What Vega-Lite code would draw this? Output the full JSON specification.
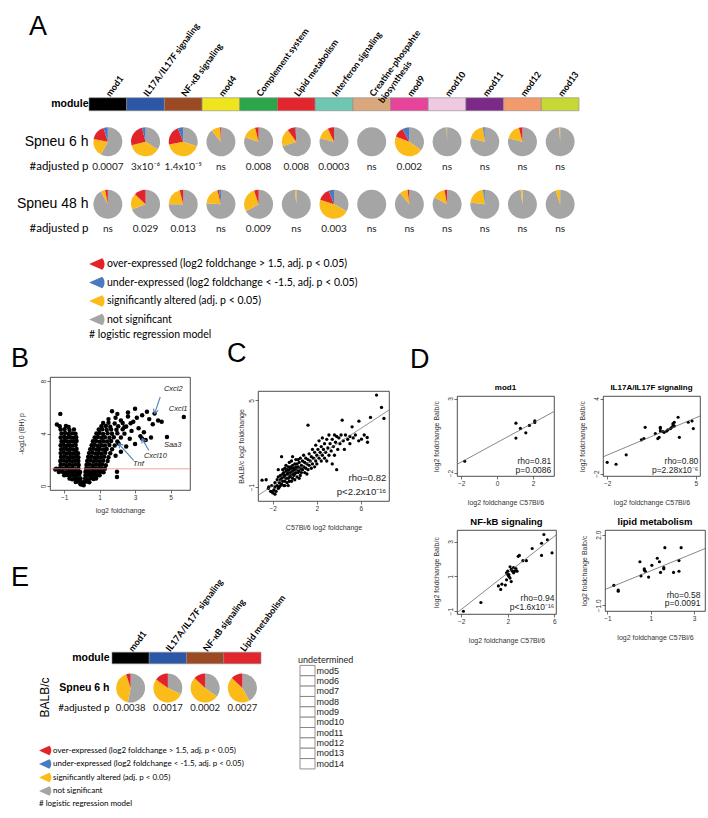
{
"$schema": "https://vega.github.io/schema/vega-lite/v6.json",
"background": "white",
"padding": {"left": 10, "top": 13, "right": 0, "bottom": 0},
"config": {
  "font": "Liberation Sans",
  "view": {"stroke": "#222", "strokeWidth": 0.8},
  "axis": {"grid": false, "domain": false, "ticks": true, "tickSize": 3, "tickColor": "#333", "tickWidth": 0.7, "labelFontSize": 6.5, "labelColor": "#333", "labelPadding": 1, "labelOverlap": false, "titleFontSize": 7, "titleFontWeight": "normal", "titleColor": "#333"},
  "axisY": {"labelAngle": -90, "labelAlign": "center", "labelBaseline": "bottom"},
  "title": {"font": "Liberation Sans", "color": "black"},
  "legend": {"symbolStrokeWidth": 0}
},
"datasets": {
  "modA": [{"m":"mod1"},{"m":"IL17A/IL17F signaling"},{"m":"NF-κB signaling"},{"m":"mod4"},{"m":"Complement system"},{"m":"Lipid metabolism"},{"m":"Interferon signaling"},{"m":"Creatine-phospahte biosynthesis"},{"m":"mod9"},{"m":"mod10"},{"m":"mod11"},{"m":"mod12"},{"m":"mod13"}],
  "pieA": [
    {"m":"mod1","r":"s6","c":"ns","k":1,"v":0.58},{"m":"mod1","r":"s6","c":"sig","k":2,"v":0.2},{"m":"mod1","r":"s6","c":"over","k":3,"v":0.17},{"m":"mod1","r":"s6","c":"under","k":4,"v":0.05},
    {"m":"IL17A/IL17F signaling","r":"s6","c":"ns","k":1,"v":0.34},{"m":"IL17A/IL17F signaling","r":"s6","c":"sig","k":2,"v":0.37},{"m":"IL17A/IL17F signaling","r":"s6","c":"over","k":3,"v":0.25},{"m":"IL17A/IL17F signaling","r":"s6","c":"under","k":4,"v":0.04},
    {"m":"NF-κB signaling","r":"s6","c":"ns","k":1,"v":0.3},{"m":"NF-κB signaling","r":"s6","c":"sig","k":2,"v":0.42},{"m":"NF-κB signaling","r":"s6","c":"over","k":3,"v":0.22},{"m":"NF-κB signaling","r":"s6","c":"under","k":4,"v":0.06},
    {"m":"mod4","r":"s6","c":"ns","k":1,"v":0.89},{"m":"mod4","r":"s6","c":"sig","k":2,"v":0.1},{"m":"mod4","r":"s6","c":"over","k":3,"v":0.01},
    {"m":"Complement system","r":"s6","c":"ns","k":1,"v":0.8},{"m":"Complement system","r":"s6","c":"sig","k":2,"v":0.16},{"m":"Complement system","r":"s6","c":"over","k":3,"v":0.04},
    {"m":"Lipid metabolism","r":"s6","c":"ns","k":1,"v":0.7},{"m":"Lipid metabolism","r":"s6","c":"sig","k":2,"v":0.2},{"m":"Lipid metabolism","r":"s6","c":"over","k":3,"v":0.09},{"m":"Lipid metabolism","r":"s6","c":"under","k":4,"v":0.01},
    {"m":"Interferon signaling","r":"s6","c":"ns","k":1,"v":0.79},{"m":"Interferon signaling","r":"s6","c":"sig","k":2,"v":0.14},{"m":"Interferon signaling","r":"s6","c":"over","k":3,"v":0.07},
    {"m":"Creatine-phospahte biosynthesis","r":"s6","c":"ns","k":1,"v":1},
    {"m":"mod9","r":"s6","c":"ns","k":1,"v":0.35},{"m":"mod9","r":"s6","c":"sig","k":2,"v":0.46},{"m":"mod9","r":"s6","c":"over","k":3,"v":0.11},{"m":"mod9","r":"s6","c":"under","k":4,"v":0.08},
    {"m":"mod10","r":"s6","c":"ns","k":1,"v":0.995},{"m":"mod10","r":"s6","c":"sig","k":2,"v":0.005},
    {"m":"mod11","r":"s6","c":"ns","k":1,"v":0.79},{"m":"mod11","r":"s6","c":"sig","k":2,"v":0.19},{"m":"mod11","r":"s6","c":"under","k":4,"v":0.02},
    {"m":"mod12","r":"s6","c":"ns","k":1,"v":0.79},{"m":"mod12","r":"s6","c":"sig","k":2,"v":0.17},{"m":"mod12","r":"s6","c":"over","k":3,"v":0.04},
    {"m":"mod13","r":"s6","c":"ns","k":1,"v":0.99},{"m":"mod13","r":"s6","c":"sig","k":2,"v":0.01},
    {"m":"mod1","r":"s48","c":"ns","k":1,"v":0.92},{"m":"mod1","r":"s48","c":"sig","k":2,"v":0.05},{"m":"mod1","r":"s48","c":"over","k":3,"v":0.03},
    {"m":"IL17A/IL17F signaling","r":"s48","c":"ns","k":1,"v":0.69},{"m":"IL17A/IL17F signaling","r":"s48","c":"sig","k":2,"v":0.18},{"m":"IL17A/IL17F signaling","r":"s48","c":"over","k":3,"v":0.13},
    {"m":"NF-κB signaling","r":"s48","c":"ns","k":1,"v":0.75},{"m":"NF-κB signaling","r":"s48","c":"sig","k":2,"v":0.21},{"m":"NF-κB signaling","r":"s48","c":"over","k":3,"v":0.04},
    {"m":"mod4","r":"s48","c":"ns","k":1,"v":0.76},{"m":"mod4","r":"s48","c":"sig","k":2,"v":0.2},{"m":"mod4","r":"s48","c":"over","k":3,"v":0.02},{"m":"mod4","r":"s48","c":"under","k":4,"v":0.02},
    {"m":"Complement system","r":"s48","c":"ns","k":1,"v":0.67},{"m":"Complement system","r":"s48","c":"sig","k":2,"v":0.28},{"m":"Complement system","r":"s48","c":"over","k":3,"v":0.05},
    {"m":"Lipid metabolism","r":"s48","c":"ns","k":1,"v":0.985},{"m":"Lipid metabolism","r":"s48","c":"sig","k":2,"v":0.015},
    {"m":"Interferon signaling","r":"s48","c":"ns","k":1,"v":0.33},{"m":"Interferon signaling","r":"s48","c":"sig","k":2,"v":0.47},{"m":"Interferon signaling","r":"s48","c":"over","k":3,"v":0.14},{"m":"Interferon signaling","r":"s48","c":"under","k":4,"v":0.06},
    {"m":"Creatine-phospahte biosynthesis","r":"s48","c":"ns","k":1,"v":1},
    {"m":"mod9","r":"s48","c":"ns","k":1,"v":0.89},{"m":"mod9","r":"s48","c":"sig","k":2,"v":0.09},{"m":"mod9","r":"s48","c":"over","k":3,"v":0.02},
    {"m":"mod10","r":"s48","c":"ns","k":1,"v":0.83},{"m":"mod10","r":"s48","c":"sig","k":2,"v":0.14},{"m":"mod10","r":"s48","c":"over","k":3,"v":0.03},
    {"m":"mod11","r":"s48","c":"ns","k":1,"v":0.77},{"m":"mod11","r":"s48","c":"sig","k":2,"v":0.21},{"m":"mod11","r":"s48","c":"under","k":4,"v":0.02},
    {"m":"mod12","r":"s48","c":"ns","k":1,"v":0.98},{"m":"mod12","r":"s48","c":"sig","k":2,"v":0.02},
    {"m":"mod13","r":"s48","c":"ns","k":1,"v":0.95},{"m":"mod13","r":"s48","c":"sig","k":2,"v":0.05}
  ],
  "pA": [
    {"m":"mod1","r":"p6","p":"0.0007"},{"m":"IL17A/IL17F signaling","r":"p6","p":"3x10⁻⁶"},{"m":"NF-κB signaling","r":"p6","p":"1.4x10⁻⁵"},{"m":"mod4","r":"p6","p":"ns"},{"m":"Complement system","r":"p6","p":"0.008"},{"m":"Lipid metabolism","r":"p6","p":"0.008"},{"m":"Interferon signaling","r":"p6","p":"0.0003"},{"m":"Creatine-phospahte biosynthesis","r":"p6","p":"ns"},{"m":"mod9","r":"p6","p":"0.002"},{"m":"mod10","r":"p6","p":"ns"},{"m":"mod11","r":"p6","p":"ns"},{"m":"mod12","r":"p6","p":"ns"},{"m":"mod13","r":"p6","p":"ns"},
    {"m":"mod1","r":"p48","p":"ns"},{"m":"IL17A/IL17F signaling","r":"p48","p":"0.029"},{"m":"NF-κB signaling","r":"p48","p":"0.013"},{"m":"mod4","r":"p48","p":"ns"},{"m":"Complement system","r":"p48","p":"0.009"},{"m":"Lipid metabolism","r":"p48","p":"ns"},{"m":"Interferon signaling","r":"p48","p":"0.003"},{"m":"Creatine-phospahte biosynthesis","r":"p48","p":"ns"},{"m":"mod9","r":"p48","p":"ns"},{"m":"mod10","r":"p48","p":"ns"},{"m":"mod11","r":"p48","p":"ns"},{"m":"mod12","r":"p48","p":"ns"},{"m":"mod13","r":"p48","p":"ns"}
  ],
  "modE": [{"m":"mod1"},{"m":"IL17A/IL17F signaling"},{"m":"NF-κB signaling"},{"m":"Lipid metabolism"}],
  "pieE": [
    {"m":"mod1","r":"s6","c":"ns","k":1,"v":0.53},{"m":"mod1","r":"s6","c":"sig","k":2,"v":0.42},{"m":"mod1","r":"s6","c":"over","k":3,"v":0.05},
    {"m":"IL17A/IL17F signaling","r":"s6","c":"ns","k":1,"v":0.32},{"m":"IL17A/IL17F signaling","r":"s6","c":"sig","k":2,"v":0.53},{"m":"IL17A/IL17F signaling","r":"s6","c":"over","k":3,"v":0.15},
    {"m":"NF-κB signaling","r":"s6","c":"ns","k":1,"v":0.35},{"m":"NF-κB signaling","r":"s6","c":"sig","k":2,"v":0.52},{"m":"NF-κB signaling","r":"s6","c":"over","k":3,"v":0.13},
    {"m":"Lipid metabolism","r":"s6","c":"ns","k":1,"v":0.42},{"m":"Lipid metabolism","r":"s6","c":"sig","k":2,"v":0.45},{"m":"Lipid metabolism","r":"s6","c":"over","k":3,"v":0.13}
  ],
  "pE": [{"m":"mod1","r":"p6","p":"0.0038"},{"m":"IL17A/IL17F signaling","r":"p6","p":"0.0017"},{"m":"NF-κB signaling","r":"p6","p":"0.0002"},{"m":"Lipid metabolism","r":"p6","p":"0.0027"}],
  "undet": [{"m":"mod5"},{"m":"mod6"},{"m":"mod7"},{"m":"mod8"},{"m":"mod9"},{"m":"mod10"},{"m":"mod11"},{"m":"mod12"},{"m":"mod13"},{"m":"mod14"}],
  "volc": [
    {"x":0.0,"y":0.1},{"x":0.1,"y":0.05},{"x":-0.08,"y":0.12},{"x":0.05,"y":0.25},
    {"x":-0.35,"y":0.3},{"x":-0.2,"y":0.32},{"x":-0.05,"y":0.28},{"x":0.15,"y":0.3},{"x":0.3,"y":0.33},{"x":0.42,"y":0.28},
    {"x":-0.7,"y":0.55},{"x":-0.55,"y":0.5},{"x":-0.38,"y":0.58},{"x":-0.22,"y":0.52},{"x":-0.08,"y":0.56},{"x":0.18,"y":0.55},{"x":0.33,"y":0.5},{"x":0.5,"y":0.57},{"x":0.66,"y":0.52},{"x":0.8,"y":0.56},
    {"x":-1.0,"y":0.8},{"x":-0.85,"y":0.83},{"x":-0.68,"y":0.78},{"x":-0.5,"y":0.82},{"x":-0.33,"y":0.79},{"x":-0.15,"y":0.84},{"x":0.2,"y":0.8},{"x":0.36,"y":0.83},{"x":0.52,"y":0.78},{"x":0.7,"y":0.82},{"x":0.86,"y":0.79},{"x":1.0,"y":0.81},
    {"x":-1.3,"y":1.05},{"x":-1.12,"y":1.08},{"x":-0.95,"y":1.02},{"x":-0.78,"y":1.06},{"x":-0.6,"y":1.04},{"x":-0.42,"y":1.07},{"x":-0.25,"y":1.03},{"x":-0.1,"y":1.06},{"x":0.2,"y":1.05},{"x":0.38,"y":1.08},{"x":0.55,"y":1.02},{"x":0.72,"y":1.06},{"x":0.9,"y":1.04},{"x":1.07,"y":1.07},{"x":1.22,"y":1.03},
    {"x":-1.45,"y":1.3},{"x":-1.25,"y":1.33},{"x":-1.08,"y":1.28},{"x":-0.9,"y":1.32},{"x":-0.72,"y":1.29},{"x":-0.55,"y":1.31},{"x":-0.38,"y":1.27},{"x":-0.2,"y":1.33},{"x":0.24,"y":1.3},{"x":0.42,"y":1.32},{"x":0.6,"y":1.28},{"x":0.78,"y":1.31},{"x":0.95,"y":1.29},{"x":1.12,"y":1.33},{"x":1.3,"y":1.3},
    {"x":-1.2,"y":1.6},{"x":-1.03,"y":1.62},{"x":-0.86,"y":1.57},{"x":-0.7,"y":1.61},{"x":-0.52,"y":1.58},{"x":-0.35,"y":1.62},{"x":-0.18,"y":1.59},{"x":0.26,"y":1.6},{"x":0.44,"y":1.63},{"x":0.62,"y":1.57},{"x":0.8,"y":1.61},{"x":0.98,"y":1.59},{"x":1.15,"y":1.62},{"x":1.35,"y":1.58},
    {"x":-1.22,"y":1.9},{"x":-1.05,"y":1.93},{"x":-0.88,"y":1.87},{"x":-0.7,"y":1.91},{"x":-0.53,"y":1.88},{"x":-0.36,"y":1.92},{"x":-0.2,"y":1.89},{"x":0.3,"y":1.9},{"x":0.48,"y":1.93},{"x":0.66,"y":1.87},{"x":0.84,"y":1.91},{"x":1.02,"y":1.88},{"x":1.2,"y":1.92},{"x":1.45,"y":1.89},
    {"x":-1.18,"y":2.2},{"x":-1.0,"y":2.23},{"x":-0.83,"y":2.17},{"x":-0.66,"y":2.21},{"x":-0.5,"y":2.18},{"x":-0.33,"y":2.22},{"x":-0.2,"y":2.19},{"x":0.35,"y":2.2},{"x":0.53,"y":2.23},{"x":0.71,"y":2.17},{"x":0.89,"y":2.21},{"x":1.07,"y":2.18},{"x":1.25,"y":2.22},{"x":1.5,"y":2.19},
    {"x":-1.2,"y":2.5},{"x":-1.02,"y":2.53},{"x":-0.85,"y":2.47},{"x":-0.68,"y":2.51},{"x":-0.5,"y":2.48},{"x":-0.34,"y":2.52},{"x":-0.22,"y":2.49},{"x":0.4,"y":2.5},{"x":0.58,"y":2.53},{"x":0.76,"y":2.47},{"x":0.94,"y":2.51},{"x":1.12,"y":2.48},{"x":1.32,"y":2.52},{"x":1.6,"y":2.49},
    {"x":-1.17,"y":2.8},{"x":-1.0,"y":2.83},{"x":-0.82,"y":2.77},{"x":-0.65,"y":2.81},{"x":-0.48,"y":2.78},{"x":-0.3,"y":2.82},{"x":0.47,"y":2.8},{"x":0.65,"y":2.83},{"x":0.83,"y":2.77},{"x":1.0,"y":2.81},{"x":1.2,"y":2.78},{"x":1.4,"y":2.82},{"x":1.7,"y":2.79},
    {"x":-1.2,"y":3.1},{"x":-1.03,"y":3.13},{"x":-0.86,"y":3.07},{"x":-0.7,"y":3.11},{"x":-0.52,"y":3.08},{"x":-0.35,"y":3.12},{"x":0.55,"y":3.1},{"x":0.72,"y":3.13},{"x":0.9,"y":3.07},{"x":1.1,"y":3.11},{"x":1.3,"y":3.08},{"x":1.55,"y":3.12},{"x":1.85,"y":3.09},
    {"x":-1.15,"y":3.4},{"x":-0.98,"y":3.43},{"x":-0.8,"y":3.37},{"x":-0.62,"y":3.41},{"x":-0.45,"y":3.38},{"x":-0.3,"y":3.42},{"x":0.62,"y":3.4},{"x":0.8,"y":3.43},{"x":1.0,"y":3.37},{"x":1.2,"y":3.41},{"x":1.42,"y":3.38},{"x":1.65,"y":3.42},{"x":2.0,"y":3.39},
    {"x":-1.2,"y":3.7},{"x":-1.0,"y":3.73},{"x":-0.84,"y":3.67},{"x":-0.66,"y":3.71},{"x":-0.48,"y":3.68},{"x":-0.32,"y":3.72},{"x":0.72,"y":3.7},{"x":0.9,"y":3.73},{"x":1.1,"y":3.67},{"x":1.3,"y":3.71},{"x":1.55,"y":3.68},{"x":1.8,"y":3.72},{"x":2.2,"y":3.69},
    {"x":-1.15,"y":4.0},{"x":-0.95,"y":4.03},{"x":-0.75,"y":3.97},{"x":-0.55,"y":4.01},{"x":-0.36,"y":3.98},{"x":0.82,"y":4.0},{"x":1.0,"y":4.03},{"x":1.2,"y":3.97},{"x":1.45,"y":4.01},{"x":1.7,"y":3.98},{"x":2.0,"y":4.02},{"x":2.4,"y":3.99},
    {"x":-1.2,"y":4.3},{"x":-0.98,"y":4.33},{"x":-0.7,"y":4.27},{"x":-0.45,"y":4.31},{"x":0.95,"y":4.3},{"x":1.15,"y":4.33},{"x":1.4,"y":4.27},{"x":1.65,"y":4.31},{"x":1.95,"y":4.28},{"x":2.3,"y":4.32},
    {"x":-1.25,"y":4.55},{"x":-0.9,"y":4.58},{"x":-0.75,"y":4.5},{"x":1.1,"y":4.55},{"x":1.35,"y":4.58},{"x":1.6,"y":4.52},{"x":2.05,"y":4.56},{"x":2.5,"y":4.53},
    {"x":1.2,"y":4.8},{"x":1.5,"y":4.83},{"x":1.85,"y":4.77},{"x":2.3,"y":4.81},{"x":2.75,"y":4.78},
    {"x":1.5,"y":5.1},{"x":1.9,"y":5.2},{"x":2.2,"y":5.0},{"x":2.6,"y":5.3},{"x":2.9,"y":4.9},{"x":3.1,"y":5.2},{"x":1.7,"y":5.7},{"x":3.0,"y":5.9},{"x":3.67,"y":5.67},{"x":3.4,"y":5.4},{"x":3.8,"y":5.1},{"x":4.1,"y":5.52},{"x":4.3,"y":5.0},{"x":4.5,"y":4.9},{"x":4.0,"y":4.7},{"x":2.4,"y":4.5},{"x":2.8,"y":4.2},{"x":3.2,"y":4.4},{"x":3.5,"y":4.1},{"x":3.3,"y":3.8},{"x":3.6,"y":3.5},{"x":3.9,"y":3.7},{"x":2.7,"y":3.6},{"x":3.0,"y":3.2},{"x":2.5,"y":3.0},{"x":2.2,"y":2.6},{"x":1.9,"y":2.3},{"x":5.75,"y":5.27},{"x":4.8,"y":3.74},{"x":2.6,"y":5.6},{"x":2.0,"y":5.5},{"x":1.98,"y":1.07},{"x":1.98,"y":0.68},{"x":-1.22,"y":5.5},{"x":-1.41,"y":4.68},{"x":-1.5,"y":1.25},{"x":3.39,"y":3.61},{"x":2.07,"y":3.23}
  ],
  "arrowsB": [
    {"x":4.42,"y":6.79,"x2":4.1,"y2":5.52},{"x":4.1,"y":5.52,"x2":4.31,"y2":5.77},{"x":4.1,"y":5.52,"x2":4.04,"y2":5.9},
    {"x":3.77,"y":2.72,"x2":3.39,"y2":3.61},{"x":3.39,"y":3.61,"x2":3.39,"y2":3.23},{"x":3.39,"y":3.61,"x2":3.635,"y2":3.42},
    {"x":2.92,"y":1.95,"x2":2.07,"y2":3.23},{"x":2.07,"y":3.23,"x2":2.13,"y2":2.86},{"x":2.07,"y":3.23,"x2":2.34,"y2":3.11}
  ],
  "genesB": [{"x":4.63,"y":7.43,"g":"Cxcl2"},{"x":4.9,"y":5.9,"g":"Cxcl1"},{"x":4.63,"y":3.15,"g":"Saa3"},{"x":3.5,"y":2.3,"g":"Cxcl10"},{"x":2.88,"y":1.7,"g":"Tnf"}],
  "scC": [
    {"x":-2.97,"y":-0.53},{"x":-2.6,"y":-0.5},{"x":-2.4,"y":-1.1},{"x":-2.36,"y":-1.0},{"x":-2.2,"y":-1.3},{"x":-2.1,"y":-0.9},{"x":-2.06,"y":-1.33},{"x":-2.0,"y":-1.4},{"x":-1.9,"y":-1.2},{"x":-1.8,"y":-0.7},{"x":-1.8,"y":-1.0},{"x":-1.8,"y":-1.5},{"x":-1.7,"y":-1.3},{"x":-1.6,"y":-0.5},{"x":-1.6,"y":-0.9},{"x":-1.5,"y":-1.1},{"x":-1.5,"y":-0.3},{"x":-1.5,"y":0.2},{"x":-1.4,"y":-0.7},{"x":-1.4,"y":-1.0},{"x":-1.3,"y":-0.5},{"x":-1.3,"y":-0.2},{"x":-1.3,"y":-0.9},{"x":-1.2,"y":-0.8},{"x":-1.2,"y":-0.4},{"x":-1.2,"y":1.1},{"x":-1.1,"y":-0.6},{"x":-1.1,"y":-0.1},{"x":-1.1,"y":0.2},{"x":-1.0,"y":-0.9},{"x":-1.0,"y":-0.3},{"x":-1.0,"y":0.0},{"x":-0.9,"y":-0.6},{"x":-0.9,"y":0.3},{"x":-0.9,"y":-0.2},{"x":-0.9,"y":-0.9},{"x":-0.8,"y":-0.4},{"x":-0.8,"y":0.1},{"x":-0.8,"y":0.5},{"x":-0.7,"y":-0.7},{"x":-0.7,"y":-0.1},{"x":-0.7,"y":0.2},{"x":-0.6,"y":-0.4},{"x":-0.6,"y":0.0},{"x":-0.6,"y":0.4},{"x":-0.6,"y":-0.9},{"x":-0.5,"y":-0.2},{"x":-0.5,"y":0.2},{"x":-0.5,"y":0.7},{"x":-0.5,"y":-0.6},{"x":-0.4,"y":0.0},{"x":-0.4,"y":0.4},{"x":-0.4,"y":-0.3},{"x":-0.3,"y":-0.1},{"x":-0.3,"y":0.3},{"x":-0.3,"y":0.8},{"x":-0.3,"y":-0.6},{"x":-0.2,"y":0.1},{"x":-0.2,"y":-0.4},{"x":-0.2,"y":0.5},{"x":-0.2,"y":1.1},{"x":-0.1,"y":0.0},{"x":-0.1,"y":0.3},{"x":-0.1,"y":-0.2},{"x":0.0,"y":0.2},{"x":0.0,"y":0.6},{"x":0.0,"y":-0.1},{"x":0.0,"y":-0.5},{"x":0.1,"y":0.4},{"x":0.1,"y":0.0},{"x":0.1,"y":0.9},{"x":0.2,"y":0.2},{"x":0.2,"y":-0.3},{"x":0.2,"y":0.6},{"x":0.3,"y":0.0},{"x":0.3,"y":0.4},{"x":0.3,"y":0.9},{"x":0.4,"y":0.7},{"x":0.4,"y":0.1},{"x":0.4,"y":-0.4},{"x":0.5,"y":0.3},{"x":0.5,"y":-0.2},{"x":0.5,"y":1.0},{"x":0.6,"y":0.5},{"x":0.6,"y":0.0},{"x":0.7,"y":0.8},{"x":0.7,"y":0.2},{"x":0.8,"y":0.4},{"x":0.8,"y":1.2},{"x":0.9,"y":0.0},{"x":0.9,"y":0.7},{"x":1.0,"y":0.3},{"x":1.0,"y":1.0},{"x":1.1,"y":0.6},{"x":1.1,"y":-0.1},{"x":1.2,"y":0.9},{"x":1.2,"y":0.2},{"x":1.2,"y":3.28},{"x":1.3,"y":0.5},{"x":1.3,"y":1.3},{"x":1.4,"y":0.8},{"x":1.5,"y":0.3},{"x":1.5,"y":1.1},{"x":1.6,"y":0.6},{"x":1.6,"y":1.6},{"x":1.7,"y":1.0},{"x":1.8,"y":0.4},{"x":1.8,"y":1.4},{"x":1.9,"y":0.8},{"x":1.9,"y":1.9},{"x":2.0,"y":1.2},{"x":2.0,"y":0.6},{"x":2.1,"y":1.6},{"x":2.2,"y":1.0},{"x":2.2,"y":2.2},{"x":2.3,"y":1.4},{"x":2.4,"y":0.8},{"x":2.4,"y":1.8},{"x":2.5,"y":1.2},{"x":2.5,"y":2.4},{"x":2.6,"y":1.6},{"x":2.7,"y":1.0},{"x":2.7,"y":2.0},{"x":2.8,"y":1.4},{"x":2.9,"y":2.3},{"x":2.9,"y":0.8},{"x":3.0,"y":1.7},{"x":3.1,"y":1.2},{"x":3.1,"y":2.6},{"x":3.2,"y":2.0},{"x":3.3,"y":1.5},{"x":3.4,"y":2.3},{"x":3.4,"y":0.6},{"x":3.5,"y":1.8},{"x":3.6,"y":2.6},{"x":3.6,"y":1.2},{"x":3.7,"y":2.1},{"x":3.8,"y":2.5},{"x":3.8,"y":0.2},{"x":3.9,"y":1.6},{"x":4.0,"y":2.4},{"x":4.1,"y":2.0},{"x":4.2,"y":2.6},{"x":4.3,"y":3.63},{"x":4.4,"y":2.2},{"x":4.5,"y":1.6},{"x":4.6,"y":2.6},{"x":4.8,"y":2.3},{"x":5.0,"y":2.5},{"x":5.0,"y":2.0},{"x":5.2,"y":3.17},{"x":5.3,"y":2.4},{"x":5.5,"y":2.6},{"x":5.82,"y":3.56},{"x":5.8,"y":2.2},{"x":6.05,"y":2.31},{"x":6.3,"y":2.6},{"x":6.57,"y":2.43},{"x":6.6,"y":2.1},{"x":6.87,"y":3.82},{"x":7.42,"y":5.37},{"x":7.87,"y":4.51},{"x":8.09,"y":3.75}
  ],
  "lineC": [{"x":-3.34,"y":-1.58,"x2":8.55,"y2":4.33}],
  "textC": [{"x":8.3,"y":-0.4,"t":"rho=0.82"},{"x":8.3,"y":-1.37,"t":"p<2.2x10⁻¹⁶"}],
  "dMod1": [{"x":-1.8,"y":-1.2},{"x":1.05,"y":1.35},{"x":1.05,"y":0.35},{"x":1.3,"y":1.0},{"x":1.6,"y":0.7},{"x":1.8,"y":1.2},{"x":2.1,"y":1.4},{"x":2.1,"y":1.5}],
  "lMod1": [{"x":-2.23,"y":-1.41,"x2":3.17,"y2":2.13}],
  "tMod1": [{"x":3.02,"y":-1.19,"t":"rho=0.81"},{"x":3.02,"y":-1.79,"t":"p=0.0086"}],
  "dIl17": [{"x":-2.0,"y":-1.1},{"x":-1.3,"y":-1.25},{"x":-0.5,"y":-0.5},{"x":0.7,"y":0.7},{"x":0.9,"y":0.8},{"x":1.0,"y":1.7},{"x":1.8,"y":1.2},{"x":2.0,"y":0.8},{"x":2.1,"y":0.9},{"x":2.2,"y":1.4},{"x":2.2,"y":1.6},{"x":2.2,"y":1.7},{"x":2.4,"y":1.35},{"x":2.5,"y":1.3},{"x":2.7,"y":1.4},{"x":2.8,"y":1.5},{"x":3.0,"y":1.6},{"x":3.1,"y":1.7},{"x":3.2,"y":1.9},{"x":3.2,"y":2.0},{"x":3.3,"y":1.8},{"x":3.3,"y":2.1},{"x":3.6,"y":2.5},{"x":3.7,"y":0.9},{"x":4.4,"y":2.1},{"x":4.7,"y":2.2},{"x":4.8,"y":1.6}],
  "lIl17": [{"x":-2.33,"y":-0.66,"x2":5.33,"y2":2.6}],
  "tIl17": [{"x":5.2,"y":-0.99,"t":"rho=0.80"},{"x":5.2,"y":-1.71,"t":"p=2.28x10⁻⁶"}],
  "dNfkb": [{"x":-1.8,"y":-1.0},{"x":-0.3,"y":-0.5},{"x":1.2,"y":0.45},{"x":1.4,"y":0.25},{"x":1.5,"y":0.55},{"x":1.8,"y":0.5},{"x":1.9,"y":0.8},{"x":1.9,"y":1.2},{"x":2.0,"y":1.3},{"x":2.0,"y":1.1},{"x":2.1,"y":1.0},{"x":2.1,"y":1.1},{"x":2.2,"y":1.55},{"x":2.2,"y":0.9},{"x":2.3,"y":1.4},{"x":2.3,"y":0.7},{"x":2.4,"y":1.3},{"x":2.5,"y":1.5},{"x":2.5,"y":1.2},{"x":2.6,"y":1.3},{"x":2.7,"y":1.45},{"x":2.8,"y":1.3},{"x":2.9,"y":2.15},{"x":3.0,"y":2.2},{"x":3.3,"y":1.9},{"x":3.6,"y":1.9},{"x":4.1,"y":2.6},{"x":4.9,"y":2.9},{"x":4.9,"y":2.2},{"x":5.1,"y":3.4},{"x":5.4,"y":3.1},{"x":5.8,"y":2.35}],
  "lNfkb": [{"x":-2.35,"y":-1.09,"x2":6.14,"y2":3.37}],
  "tNfkb": [{"x":6.0,"y":-0.25,"t":"rho=0.94"},{"x":6.0,"y":-0.77,"t":"p<1.6x10⁻¹⁶"}],
  "dLip": [{"x":-0.7,"y":-0.15},{"x":-0.5,"y":-0.35},{"x":-0.5,"y":-0.4},{"x":0.5,"y":0.85},{"x":0.55,"y":0.25},{"x":0.7,"y":0.5},{"x":0.7,"y":0.55},{"x":0.75,"y":0.45},{"x":0.9,"y":0.2},{"x":1.05,"y":0.7},{"x":1.3,"y":1.0},{"x":1.4,"y":0.85},{"x":1.45,"y":0.4},{"x":1.6,"y":0.55},{"x":1.6,"y":0.6},{"x":1.65,"y":1.45},{"x":2.05,"y":0.4},{"x":2.3,"y":0.9},{"x":2.3,"y":0.45},{"x":2.4,"y":1.45}],
  "lLip": [{"x":-1.11,"y":-0.33,"x2":3.5,"y2":1.41}],
  "tLip": [{"x":3.29,"y":-0.54,"t":"rho=0.58"},{"x":3.29,"y":-0.9,"t":"p=0.0091"}]
},
"spacing": -2,
"vconcat": [
{
  "title": {"text": "A", "fontSize": 27, "fontWeight": "normal", "anchor": "start", "frame": "group", "dx": -21, "dy": 20, "offset": 0},
  "width": 529, "height": 137.5,
  "view": {"stroke": null},
  "resolve": {"scale": {"fill": "independent"}},
  "layer": [
    {"data": {"name": "modA"},
     "mark": {"type": "rect", "stroke": "#8a8a8a", "strokeWidth": 0.6, "height": {"band": 1.04}},
     "encoding": {
       "x": {"field": "m", "type": "nominal", "scale": {"domain": ["mod1","IL17A/IL17F signaling","NF-κB signaling","mod4","Complement system","Lipid metabolism","Interferon signaling","Creatine-phospahte biosynthesis","mod9","mod10","mod11","mod12","mod13"], "paddingInner": 0, "paddingOuter": 0.5173, "align": 1},
         "axis": {"orient": "top", "title": null, "ticks": false, "domain": false, "labelAngle": -54, "labelAlign": "left", "labelBaseline": "middle", "labelPadding": 3, "labelFont": "Lato", "labelFontWeight": "bold", "labelFontSize": 9, "labelColor": "black", "labelLimit": 0,
           "labelExpr": "datum.label == 'Creatine-phospahte biosynthesis' ? ['Creatine-phospahte', 'biosynthesis'] : datum.label"}},
       "y": {"datum": "module", "type": "nominal", "scale": {"domain": ["module","g1","g2","s6","g3","p6","g4","g5","s48","g6","p48"], "paddingInner": 0, "paddingOuter": 0},
         "axis": {"title": null, "offset": -39, "ticks": false, "domain": false, "labelAngle": 0, "labelAlign": "right", "labelBaseline": "middle", "labelPadding": 1, "labelColor": "black", "labelLimit": 0,
           "labelExpr": "datum.value == 'module' ? 'module' : datum.value == 's6' ? 'Spneu 6 h' : datum.value == 's48' ? 'Spneu 48 h' : (datum.value == 'p6' || datum.value == 'p48') ? '#adjusted p' : ''",
           "labelFont": {"condition": {"test": "datum.value == 'p6' || datum.value == 'p48'", "value": "Lato"}, "value": "Liberation Sans"},
           "labelFontSize": {"condition": [{"test": "datum.value == 's6' || datum.value == 's48'", "value": 14}, {"test": "datum.value == 'p6' || datum.value == 'p48'", "value": 11.5}], "value": 10.5},
           "labelFontWeight": {"condition": {"test": "datum.value == 'module'", "value": "bold"}, "value": "normal"}}},
       "fill": {"field": "m", "type": "nominal", "scale": {"domain": ["mod1","IL17A/IL17F signaling","NF-κB signaling","mod4","Complement system","Lipid metabolism","Interferon signaling","Creatine-phospahte biosynthesis","mod9","mod10","mod11","mod12","mod13"], "range": ["#000000","#2c57a6","#9b4a23","#efe51c","#2ca64a","#e2262d","#6fc6b3","#d9a77c","#e8439a","#efc9e2","#7b2a88","#f39a6c","#c6d834"]}, "legend": null}
     }},
    {"data": {"name": "pieA"},
     "transform": [{"stack": "v", "groupby": ["m", "r"], "sort": [{"field": "k", "order": "ascending"}], "offset": "normalize", "as": ["t0", "t1"]}],
     "mark": {"type": "arc", "outerRadius": 14.5},
     "encoding": {
       "x": {"field": "m", "type": "nominal", "scale": {"domain": ["mod1","IL17A/IL17F signaling","NF-κB signaling","mod4","Complement system","Lipid metabolism","Interferon signaling","Creatine-phospahte biosynthesis","mod9","mod10","mod11","mod12","mod13"], "paddingInner": 0, "paddingOuter": 0.5173, "align": 1}},
       "y": {"field": "r", "type": "nominal", "scale": {"domain": ["module","g1","g2","s6","g3","p6","g4","g5","s48","g6","p48"], "paddingInner": 0, "paddingOuter": 0}},
       "theta": {"field": "t0", "type": "quantitative", "scale": {"domain": [0, 1], "range": [0, 6.283185]}, "stack": null},
       "theta2": {"field": "t1"},
       "fill": {"field": "c", "type": "nominal", "scale": {"domain": ["over","under","sig","ns"], "range": ["#e2232a","#4b7bbf","#fbbb18","#a5a5a5"]},
         "legend": {"orient": "none", "legendX": 39, "legendY": 159, "direction": "vertical", "title": "# logistic regression model", "titleOrient": "bottom", "titleFont": "Lato", "titleFontSize": 10.5, "titleFontWeight": "normal", "titleColor": "black", "titlePadding": 5, "labelFont": "Lato", "labelFontSize": 10.5, "labelColor": "black", "labelLimit": 0, "labelOffset": 4, "symbolType": "M-1,0L0.9,-0.85A1.25,1.25,0,0,1,0.9,0.85Z", "symbolSize": 190, "symbolStrokeWidth": 0, "symbolOpacity": 1, "rowPadding": 5.5,
           "labelExpr": "datum.value == 'over' ? 'over-expressed (log2 foldchange > 1.5, adj. p < 0.05)' : datum.value == 'under' ? 'under-expressed (log2 foldchange < -1.5, adj. p < 0.05)' : datum.value == 'sig' ? 'significantly altered (adj. p < 0.05)' : 'not significant'"}}
     }},
    {"data": {"name": "pA"},
     "mark": {"type": "text", "font": "Lato", "fontSize": 10, "color": "#222", "baseline": "middle"},
     "encoding": {
       "x": {"field": "m", "type": "nominal", "scale": {"domain": ["mod1","IL17A/IL17F signaling","NF-κB signaling","mod4","Complement system","Lipid metabolism","Interferon signaling","Creatine-phospahte biosynthesis","mod9","mod10","mod11","mod12","mod13"], "paddingInner": 0, "paddingOuter": 0.5173, "align": 1}},
       "y": {"field": "r", "type": "nominal", "scale": {"domain": ["module","g1","g2","s6","g3","p6","g4","g5","s48","g6","p48"], "paddingInner": 0, "paddingOuter": 0}},
       "text": {"field": "p"}
     }}
  ]
},
{
  "spacing": 20,
  "hconcat": [
    {
      "spacing": 33,
      "vconcat": [
        {
          "spacing": 36,
          "hconcat": [
            {
              "title": {"text": "B", "fontSize": 27, "fontWeight": "normal", "anchor": "start", "frame": "group", "dx": -39, "offset": 4},
              "width": 140, "height": 113,
              "layer": [
                {"data": {"name": "volc"}, "mark": {"type": "circle", "size": 20, "color": "black", "opacity": 1},
                 "encoding": {
                   "x": {"field": "x", "type": "quantitative", "scale": {"domain": [-1.8, 6.1], "nice": false, "zero": false}, "axis": {"values": [-1,0,1,2,3,4,5], "title": "log2 foldchange", "titlePadding": 6}},
                   "y": {"field": "y", "type": "quantitative", "scale": {"domain": [-0.32, 8.32], "nice": false, "zero": false}, "axis": {"values": [0,2,4,6,8], "title": "-log10 (BH) p", "titlePadding": 16}}}},
                {"data": {"values": [{}]}, "mark": {"type": "rule", "color": "#f08c8c", "strokeWidth": 0.8},
                 "encoding": {"y": {"datum": 1.3, "type": "quantitative", "scale": {"domain": [-0.32, 8.32], "nice": false, "zero": false}}}},
                {"data": {"name": "arrowsB"}, "mark": {"type": "rule", "color": "#4f81bd", "strokeWidth": 1.1},
                 "encoding": {
                   "x": {"field": "x", "type": "quantitative", "scale": {"domain": [-1.8, 6.1], "nice": false, "zero": false}},
                   "y": {"field": "y", "type": "quantitative", "scale": {"domain": [-0.32, 8.32], "nice": false, "zero": false}},
                   "x2": {"field": "x2"}, "y2": {"field": "y2"}}},
                {"data": {"name": "genesB"}, "mark": {"type": "text", "fontStyle": "italic", "fontSize": 7.5, "align": "left", "baseline": "middle", "color": "#222"},
                 "encoding": {
                   "x": {"field": "x", "type": "quantitative", "scale": {"domain": [-1.8, 6.1], "nice": false, "zero": false}},
                   "y": {"field": "y", "type": "quantitative", "scale": {"domain": [-0.32, 8.32], "nice": false, "zero": false}},
                   "text": {"field": "g"}}}
              ]
            },
            {
              "spacing": 7,
              "vconcat": [
                {
                  "title": {"text": "C", "fontSize": 27, "fontWeight": "normal", "anchor": "start", "frame": "group", "dx": -31, "offset": 4},
                  "width": 1, "height": 1,
                  "view": {"stroke": null},
                  "data": {"values": [{}]},
                  "mark": {"type": "text", "text": ""},
                  "encoding": {}
                },
                {
                  "width": 131, "height": 110,
                  "layer": [
                    {"data": {"name": "scC"}, "mark": {"type": "circle", "size": 11, "color": "black", "opacity": 1},
                     "encoding": {
                       "x": {"field": "x", "type": "quantitative", "scale": {"domain": [-3.34, 8.55], "nice": false, "zero": false}, "axis": {"values": [-2,0,2,4,6,8], "title": "C57Bl/6 log2 foldchange", "titlePadding": 12}},
                       "y": {"field": "y", "type": "quantitative", "scale": {"domain": [-1.97, 5.65], "nice": false, "zero": false}, "axis": {"values": [-1,0,1,2,3,4,5], "title": "BALB/c log2 foldchange", "titlePadding": 4}}}},
                    {"data": {"name": "lineC"}, "mark": {"type": "rule", "color": "#666", "strokeWidth": 0.7, "clip": true},
                     "encoding": {
                       "x": {"field": "x", "type": "quantitative", "scale": {"domain": [-3.34, 8.55], "nice": false, "zero": false}},
                       "y": {"field": "y", "type": "quantitative", "scale": {"domain": [-1.97, 5.65], "nice": false, "zero": false}},
                       "x2": {"field": "x2"}, "y2": {"field": "y2"}}},
                    {"data": {"name": "textC"}, "mark": {"type": "text", "align": "right", "baseline": "middle", "fontSize": 9.5, "color": "#222"},
                     "encoding": {
                       "x": {"field": "x", "type": "quantitative", "scale": {"domain": [-3.34, 8.55], "nice": false, "zero": false}},
                       "y": {"field": "y", "type": "quantitative", "scale": {"domain": [-1.97, 5.65], "nice": false, "zero": false}},
                       "text": {"field": "t"}}}
                  ]
                }
              ]
            }
          ]
        },
        {
          "spacing": 39,
          "bounds": "flush",
          "hconcat": [
            {
              "title": {"text": "E", "fontSize": 27, "fontWeight": "normal", "anchor": "start", "frame": "group", "dx": -39, "dy": 15, "offset": 0},
              "width": 211, "height": 60,
              "view": {"stroke": null},
              "resolve": {"scale": {"fill": "independent"}},
              "layer": [
                {"data": {"name": "modE"},
                 "mark": {"type": "rect", "stroke": "#8a8a8a", "strokeWidth": 0.6, "height": {"band": 1.16}},
                 "encoding": {
                   "x": {"field": "m", "type": "nominal", "scale": {"domain": ["mod1","IL17A/IL17F signaling","NF-κB signaling","Lipid metabolism"], "paddingInner": 0, "paddingOuter": 0.832, "align": 1},
                     "axis": {"orient": "top", "title": null, "ticks": false, "domain": false, "labelAngle": -53, "labelAlign": "left", "labelBaseline": "middle", "labelPadding": 3, "labelFont": "Lato", "labelFontWeight": "bold", "labelFontSize": 9, "labelColor": "black", "labelLimit": 0}},
                   "y": {"datum": "module", "type": "nominal", "scale": {"domain": ["module","g1","g2","s6","g3","p6"], "paddingInner": 0, "paddingOuter": 0},
                     "axis": {"title": "BALB/c", "offset": -62, "titleFont": "Liberation Sans", "titleFontSize": 12, "titleFontWeight": "normal", "titleColor": "black", "titlePadding": 6, "titleY": 44,
                       "ticks": false, "domain": false, "labelAngle": 0, "labelAlign": "right", "labelBaseline": "middle", "labelPadding": 3, "labelColor": "black", "labelLimit": 0,
                       "labelExpr": "datum.value == 'module' ? 'module' : datum.value == 's6' ? 'Spneu 6 h' : datum.value == 'p6' ? '#adjusted p' : ''",
                       "labelFont": {"condition": {"test": "datum.value == 'p6'", "value": "Lato"}, "value": "Liberation Sans"},
                       "labelFontSize": {"condition": {"test": "datum.value == 'p6'", "value": 10}, "value": 10.5},
                       "labelFontWeight": {"condition": {"test": "datum.value == 'module' || datum.value == 's6'", "value": "bold"}, "value": "normal"}}},
                   "fill": {"field": "m", "type": "nominal", "scale": {"domain": ["mod1","IL17A/IL17F signaling","NF-κB signaling","Lipid metabolism"], "range": ["#000000","#2c57a6","#9b4a23","#e2262d"]}, "legend": null}
                 }},
                {"data": {"name": "pieE"},
                 "transform": [{"stack": "v", "groupby": ["m", "r"], "sort": [{"field": "k", "order": "ascending"}], "offset": "normalize", "as": ["t0", "t1"]}],
                 "mark": {"type": "arc", "outerRadius": 14.5},
                 "encoding": {
                   "x": {"field": "m", "type": "nominal", "scale": {"domain": ["mod1","IL17A/IL17F signaling","NF-κB signaling","Lipid metabolism"], "paddingInner": 0, "paddingOuter": 0.832, "align": 1}},
                   "y": {"field": "r", "type": "nominal", "scale": {"domain": ["module","g1","g2","s6","g3","p6"], "paddingInner": 0, "paddingOuter": 0}},
                   "theta": {"field": "t0", "type": "quantitative", "scale": {"domain": [0, 1], "range": [0, 6.283185]}, "stack": null},
                   "theta2": {"field": "t1"},
                   "fill": {"field": "c", "type": "nominal", "scale": {"domain": ["over","under","sig","ns"], "range": ["#e2232a","#4b7bbf","#fbbb18","#a5a5a5"]},
                     "legend": {"orient": "none", "legendX": -11, "legendY": 92, "direction": "vertical", "title": "# logistic regression model", "titleOrient": "bottom", "titleFont": "Lato", "titleFontSize": 8, "titleFontWeight": "normal", "titleColor": "black", "titlePadding": 4, "labelFont": "Lato", "labelFontSize": 8, "labelColor": "black", "labelLimit": 0, "labelOffset": 3, "symbolType": "M-1,0L0.9,-0.85A1.25,1.25,0,0,1,0.9,0.85Z", "symbolSize": 120, "symbolStrokeWidth": 0, "symbolOpacity": 1, "rowPadding": 2.5,
                       "labelExpr": "datum.value == 'over' ? 'over-expressed (log2 foldchange > 1.5, adj. p < 0.05)' : datum.value == 'under' ? 'under-expressed (log2 foldchange < -1.5, adj. p < 0.05)' : datum.value == 'sig' ? 'significantly altered (adj. p < 0.05)' : 'not significant'"}}
                 }},
                {"data": {"name": "pE"},
                 "mark": {"type": "text", "font": "Lato", "fontSize": 9.5, "color": "#222", "baseline": "middle"},
                 "encoding": {
                   "x": {"field": "m", "type": "nominal", "scale": {"domain": ["mod1","IL17A/IL17F signaling","NF-κB signaling","Lipid metabolism"], "paddingInner": 0, "paddingOuter": 0.832, "align": 1}},
                   "y": {"field": "r", "type": "nominal", "scale": {"domain": ["module","g1","g2","s6","g3","p6"], "paddingInner": 0, "paddingOuter": 0}},
                   "text": {"field": "p"}
                 }}
              ]
            },
            {
              "title": {"text": "undetermined", "fontSize": 9, "font": "Lato", "fontWeight": "normal", "anchor": "start", "frame": "group", "dx": -2, "dy": 12, "offset": 0, "color": "#222"},
              "width": 15, "height": 118,
              "view": {"stroke": null},
              "data": {"name": "undet"},
              "mark": {"type": "rect", "fill": "white", "stroke": "#777", "strokeWidth": 0.8},
              "encoding": {
                "x": {"datum": "u", "type": "nominal", "scale": {"paddingInner": 0, "paddingOuter": 0}, "axis": null},
                "y": {"field": "m", "type": "nominal", "scale": {"domain": ["pad","mod5","mod6","mod7","mod8","mod9","mod10","mod11","mod12","mod13","mod14"], "paddingInner": 0, "paddingOuter": 0.2},
                  "axis": {"orient": "right", "title": null, "ticks": false, "domain": false, "labelAngle": 0, "labelAlign": "left", "labelBaseline": "middle", "labelPadding": 1, "labelFontSize": 9, "labelFont": "Liberation Sans", "labelColor": "#222", "labelExpr": "datum.value == 'pad' ? '' : datum.label"}}
              }
            }
          ]
        }
      ]
    },
    {
      "title": {"text": "D", "fontSize": 27, "fontWeight": "normal", "anchor": "start", "frame": "group", "dx": -47, "dy": 2, "offset": 0},
      "spacing": 0,
      "vconcat": [
        {
          "width": 1, "height": 1,
          "view": {"stroke": null},
          "data": {"values": [{}]},
          "mark": {"type": "text", "text": ""},
          "encoding": {}
        },
        {
          "spacing": 10,
          "vconcat": [
            {
              "spacing": 22,
              "hconcat": [
                {
                  "title": {"text": "mod1", "fontSize": 8, "fontWeight": "bold", "offset": 4},
                  "width": 97, "height": 80,
                  "layer": [
                    {"data": {"name": "dMod1"}, "mark": {"type": "circle", "size": 10, "color": "black", "opacity": 1},
                     "encoding": {
                       "x": {"field": "x", "type": "quantitative", "scale": {"domain": [-2.23, 3.17], "nice": false, "zero": false}, "axis": {"values": [-2,-1,0,1,2,3], "title": "log2 foldchange C57Bl/6", "titlePadding": 12}},
                       "y": {"field": "y", "type": "quantitative", "scale": {"domain": [-2.19, 3.17], "nice": false, "zero": false}, "axis": {"values": [-2,-1,0,1,2,3], "title": "log2 foldchange Balb/c", "titlePadding": 8}}}},
                    {"data": {"name": "lMod1"}, "mark": {"type": "rule", "color": "#555", "strokeWidth": 0.7, "clip": true},
                     "encoding": {
                       "x": {"field": "x", "type": "quantitative", "scale": {"domain": [-2.23, 3.17], "nice": false, "zero": false}},
                       "y": {"field": "y", "type": "quantitative", "scale": {"domain": [-2.19, 3.17], "nice": false, "zero": false}},
                       "x2": {"field": "x2"}, "y2": {"field": "y2"}}},
                    {"data": {"name": "tMod1"}, "mark": {"type": "text", "align": "right", "baseline": "middle", "fontSize": 8.5, "color": "#222"},
                     "encoding": {
                       "x": {"field": "x", "type": "quantitative", "scale": {"domain": [-2.23, 3.17], "nice": false, "zero": false}},
                       "y": {"field": "y", "type": "quantitative", "scale": {"domain": [-2.19, 3.17], "nice": false, "zero": false}},
                       "text": {"field": "t"}}}
                  ]
                },
                {
                  "title": {"text": "IL17A/IL17F signaling", "fontSize": 8, "fontWeight": "bold", "offset": 4},
                  "width": 97, "height": 80,
                  "layer": [
                    {"data": {"name": "dIl17"}, "mark": {"type": "circle", "size": 10, "color": "black", "opacity": 1},
                     "encoding": {
                       "x": {"field": "x", "type": "quantitative", "scale": {"domain": [-2.33, 5.33], "nice": false, "zero": false}, "axis": {"values": [-2,-1,0,1,2,3,4,5], "title": "log2 foldchange C57Bl/6", "titlePadding": 12}},
                       "y": {"field": "y", "type": "quantitative", "scale": {"domain": [-2.19, 4.2], "nice": false, "zero": false}, "axis": {"values": [-2,-1,0,1,2,3,4], "title": "log2 foldchange Balb/c", "titlePadding": 8}}}},
                    {"data": {"name": "lIl17"}, "mark": {"type": "rule", "color": "#555", "strokeWidth": 0.7, "clip": true},
                     "encoding": {
                       "x": {"field": "x", "type": "quantitative", "scale": {"domain": [-2.33, 5.33], "nice": false, "zero": false}},
                       "y": {"field": "y", "type": "quantitative", "scale": {"domain": [-2.19, 4.2], "nice": false, "zero": false}},
                       "x2": {"field": "x2"}, "y2": {"field": "y2"}}},
                    {"data": {"name": "tIl17"}, "mark": {"type": "text", "align": "right", "baseline": "middle", "fontSize": 8.5, "color": "#222"},
                     "encoding": {
                       "x": {"field": "x", "type": "quantitative", "scale": {"domain": [-2.33, 5.33], "nice": false, "zero": false}},
                       "y": {"field": "y", "type": "quantitative", "scale": {"domain": [-2.19, 4.2], "nice": false, "zero": false}},
                       "text": {"field": "t"}}}
                  ]
                }
              ]
            },
            {
              "spacing": 22,
              "hconcat": [
                {
                  "title": {"text": "NF-kB signaling", "fontSize": 9.5, "fontWeight": "bold", "offset": 4},
                  "width": 99, "height": 84,
                  "layer": [
                    {"data": {"name": "dNfkb"}, "mark": {"type": "circle", "size": 10, "color": "black", "opacity": 1},
                     "encoding": {
                       "x": {"field": "x", "type": "quantitative", "scale": {"domain": [-2.35, 6.14], "nice": false, "zero": false}, "axis": {"values": [-2,0,2,4,6], "title": "log2 foldchange  C57Bl/6", "titlePadding": 12}},
                       "y": {"field": "y", "type": "quantitative", "scale": {"domain": [-1.16, 3.66], "nice": false, "zero": false}, "axis": {"values": [-1,0,1,2,3], "title": "log2 foldchange  Balb/c", "titlePadding": 8}}}},
                    {"data": {"name": "lNfkb"}, "mark": {"type": "rule", "color": "#555", "strokeWidth": 0.7, "clip": true},
                     "encoding": {
                       "x": {"field": "x", "type": "quantitative", "scale": {"domain": [-2.35, 6.14], "nice": false, "zero": false}},
                       "y": {"field": "y", "type": "quantitative", "scale": {"domain": [-1.16, 3.66], "nice": false, "zero": false}},
                       "x2": {"field": "x2"}, "y2": {"field": "y2"}}},
                    {"data": {"name": "tNfkb"}, "mark": {"type": "text", "align": "right", "baseline": "middle", "fontSize": 8.5, "color": "#222"},
                     "encoding": {
                       "x": {"field": "x", "type": "quantitative", "scale": {"domain": [-2.35, 6.14], "nice": false, "zero": false}},
                       "y": {"field": "y", "type": "quantitative", "scale": {"domain": [-1.16, 3.66], "nice": false, "zero": false}},
                       "text": {"field": "t"}}}
                  ]
                },
                {
                  "title": {"text": "lipid metabolism", "fontSize": 9.5, "fontWeight": "bold", "offset": 4},
                  "width": 100, "height": 81,
                  "layer": [
                    {"data": {"name": "dLip"}, "mark": {"type": "circle", "size": 10, "color": "black", "opacity": 1},
                     "encoding": {
                       "x": {"field": "x", "type": "quantitative", "scale": {"domain": [-1.11, 3.5], "nice": false, "zero": false}, "axis": {"values": [-1,0,1,2,3], "title": "log2 foldchange C57Bl/6", "titlePadding": 12}},
                       "y": {"field": "y", "type": "quantitative", "scale": {"domain": [-1.24, 2.2], "nice": false, "zero": false}, "axis": {"values": [-1,0,1,2], "format": ".1f", "title": "log2 foldchange Balb/c", "titlePadding": 8}}}},
                    {"data": {"name": "lLip"}, "mark": {"type": "rule", "color": "#555", "strokeWidth": 0.7, "clip": true},
                     "encoding": {
                       "x": {"field": "x", "type": "quantitative", "scale": {"domain": [-1.11, 3.5], "nice": false, "zero": false}},
                       "y": {"field": "y", "type": "quantitative", "scale": {"domain": [-1.24, 2.2], "nice": false, "zero": false}},
                       "x2": {"field": "x2"}, "y2": {"field": "y2"}}},
                    {"data": {"name": "tLip"}, "mark": {"type": "text", "align": "right", "baseline": "middle", "fontSize": 8.5, "color": "#222"},
                     "encoding": {
                       "x": {"field": "x", "type": "quantitative", "scale": {"domain": [-1.11, 3.5], "nice": false, "zero": false}},
                       "y": {"field": "y", "type": "quantitative", "scale": {"domain": [-1.24, 2.2], "nice": false, "zero": false}},
                       "text": {"field": "t"}}}
                  ]
                }
              ]
            }
          ]
        }
      ]
    }
  ]
}
]
}
